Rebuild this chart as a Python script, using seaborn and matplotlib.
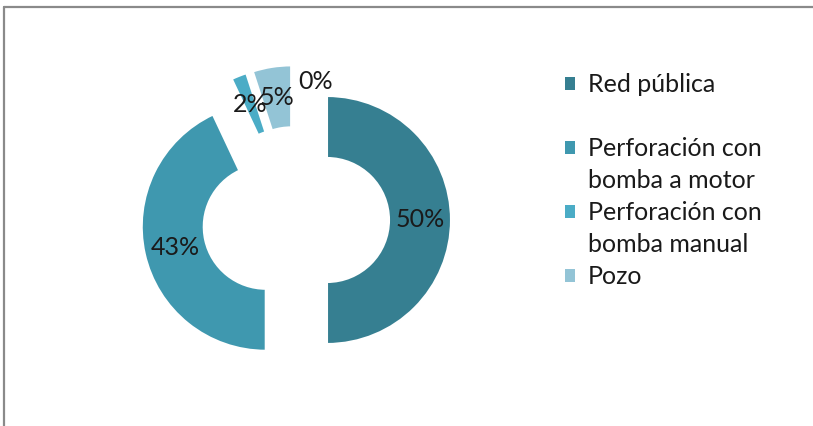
import matplotlib
matplotlib.use("Agg")
import matplotlib.pyplot as plt
from matplotlib.lines import Line2D
from matplotlib.patches import Rectangle
import seaborn as sns

# Source of drinking water by household
categories = ["Red pública", "Perforación con bomba a motor",
              "Perforación con bomba manual", "Pozo", "Otro"]
shares = [50, 43, 2, 5, 0]
legend_lines = [["Red pública"],
                ["Perforación con", "bomba a motor"],
                ["Perforación con", "bomba manual"],
                ["Pozo"]]
colors = ["#367F91", "#3F98AF", "#4BACC6", "#93C4D6", "#BBDCE6"]

sns.set_theme(style="white")
plt.rcParams["font.family"] = ["Lato", "DejaVu Sans"]

W, H = 813, 426
fig = plt.figure(figsize=(W / 100, H / 100), dpi=100)
fig.patch.set_facecolor("white")

# donut centre and radius in pixels
cx, cy, R = 296, 220, 124
span = 1.6
ax = fig.add_axes([(cx - span * R) / W, (H - cy - span * R) / H,
                   2 * span * R / W, 2 * span * R / H])

wedges, texts, pcts = ax.pie(
    shares, colors=colors, startangle=90, counterclock=False,
    explode=[0.25] * len(shares), radius=1.0,
    autopct="%.0f%%", pctdistance=0.75,
    wedgeprops=dict(width=0.5, edgecolor="white", linewidth=1.5),
    textprops=dict(fontsize=18, color="#1a1a1a"),
)
# the empty slice's label sits just right of the gap
pcts[-1].set_position((0.16, 1.12))

ax.set_xlim(-span, span)
ax.set_ylim(-span, span)
ax.axis("off")

# legend: one row per text line, keys only on the first line of each entry
handles, labels = [], []
blank = Rectangle((0, 0), 1, 1, facecolor="none", edgecolor="none")
for i, lines in enumerate(legend_lines):
    handles.append(Rectangle((0, 0), 1, 1, facecolor=colors[i], edgecolor="none"))
    labels.append(lines[0])
    for extra in lines[1:]:
        handles.append(blank)
        labels.append(extra)
    if i == 0:
        handles.append(blank)
        labels.append(" ")

fig.legend(handles, labels, loc="upper left",
           bbox_to_anchor=(552 / W, 1 - 61 / H),
           frameon=False, fontsize=18, handlelength=0.42, handleheight=0.42,
           handletextpad=0.5, labelspacing=0.36, borderpad=0,
           labelcolor="#1a1a1a")

# chart-area frame (top and left edges)
fig.add_artist(Line2D([4 / W, 1], [1 - 7 / H, 1 - 7 / H], color="#8a8a8a",
                      lw=1.6, transform=fig.transFigure))
fig.add_artist(Line2D([4 / W, 4 / W], [0, 1 - 7 / H], color="#8a8a8a",
                      lw=1.6, transform=fig.transFigure))

fig.savefig("out.png", dpi=100, facecolor="white")
